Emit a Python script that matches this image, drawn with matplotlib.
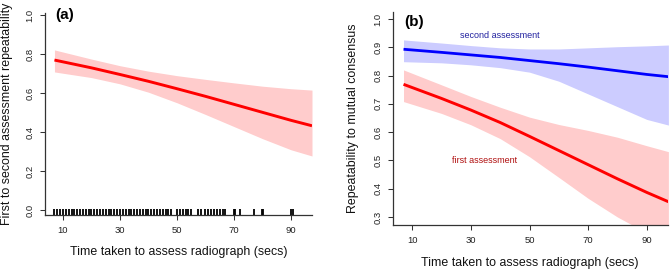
import matplotlib
matplotlib.use("Agg")
import matplotlib.pyplot as plt
import matplotlib.transforms as mtransforms

plt.rcParams['font.family'] = ['Liberation Sans', 'DejaVu Sans']

# ---------------- data ----------------
x_grid = [7, 20, 30, 40, 50, 60, 70, 80, 90, 97.4]

# panel (a): first to second assessment repeatability
a_fit = [0.769, 0.729, 0.695, 0.660, 0.622, 0.583, 0.542, 0.501, 0.460, 0.432]
a_upper = [0.821, 0.774, 0.740, 0.712, 0.689, 0.670, 0.652, 0.635, 0.622, 0.615]
a_lower = [0.708, 0.679, 0.647, 0.604, 0.550, 0.490, 0.428, 0.366, 0.309, 0.277]

rug_times = [7, 8, 9, 10, 11, 12, 13, 14, 15, 16, 17, 18, 19, 20, 21, 22, 23, 24,
             25, 26, 27, 28, 29, 30, 31, 32, 33, 34, 35, 36, 37, 38, 39, 40, 41,
             42, 43, 44, 45, 46, 47, 48, 50, 51, 52, 53, 54, 55, 57.5, 58.5, 60,
             61, 62, 63, 64, 65, 66, 67, 70, 70.5, 72, 77, 79.7, 80.3, 90, 90.8]

# panel (b): repeatability to mutual consensus
b_first_fit = [0.769, 0.719, 0.678, 0.634, 0.585, 0.535, 0.485, 0.435, 0.387, 0.354]
b_first_upper = [0.820, 0.767, 0.726, 0.688, 0.653, 0.627, 0.606, 0.582, 0.552, 0.531]
b_first_lower = [0.708, 0.666, 0.626, 0.577, 0.513, 0.440, 0.366, 0.300, 0.244, 0.210]

b_second_fit = [0.893, 0.882, 0.873, 0.864, 0.853, 0.842, 0.830, 0.817, 0.804, 0.796]
b_second_upper = [0.926, 0.915, 0.906, 0.898, 0.894, 0.894, 0.898, 0.902, 0.905, 0.908]
b_second_lower = [0.849, 0.845, 0.838, 0.828, 0.812, 0.780, 0.735, 0.690, 0.645, 0.625]

x_ticks = [10, 30, 50, 70, 90]
a_yticks = [0.0, 0.2, 0.4, 0.6, 0.8, 1.0]
b_yticks = [0.3, 0.4, 0.5, 0.6, 0.7, 0.8, 0.9, 1.0]

xlabel = "Time taken to assess radiograph (secs)"
a_ylabel = "First to second assessment repeatability"
b_ylabel = "Repeatability to mutual consensus"

# ---------------- styling ----------------
RED = "#FF0000"
RED_BAND = "#FFCCCC"
BLUE = "#0000FF"
BLUE_BAND = "#CCCCFF"
AX_COLOR = "#333333"
TICK_FS = 6.8
LABEL_FS = 8.9

fig = plt.figure(figsize=(6.7, 2.71), dpi=100)
ax_a = fig.add_axes([45/670, 1-215/271, 267/670, 202/271])
ax_b = fig.add_axes([393/670, 1-225/271, 275.4/670, 213/271])


def style(ax, yticks, ylim, xlim):
    ax.set_xlim(*xlim)
    ax.set_ylim(*ylim)
    for s in ['top', 'right']:
        ax.spines[s].set_visible(False)
    for s in ['left', 'bottom']:
        ax.spines[s].set_color(AX_COLOR)
        ax.spines[s].set_linewidth(0.9)
    ax.set_xticks(x_ticks)
    ax.set_xticklabels([str(v) for v in x_ticks])
    ax.set_yticks(yticks)
    ax.set_yticklabels([f"{v:.1f}" for v in yticks])
    ax.tick_params(axis='both', direction='out', length=3.6, width=0.75,
                   color=AX_COLOR, labelsize=TICK_FS, labelcolor='#222222')
    ax.tick_params(axis='x', pad=4.5)
    ax.tick_params(axis='y', pad=4.0, labelrotation=90)
    for lab in ax.get_yticklabels():
        lab.set_verticalalignment('center')


# ---- panel (a) ----
style(ax_a, a_yticks, (-0.0256, 1.0103), (3.68, 97.4))
ax_a.fill_between(x_grid, a_lower, a_upper, color=RED_BAND, linewidth=0)
ax_a.plot(x_grid, a_fit, color=RED, linewidth=2.1, solid_capstyle='butt')
trans = mtransforms.blended_transform_factory(ax_a.transData, ax_a.transAxes)
ax_a.vlines(rug_times, 0, 0.03, transform=trans, color='black', linewidth=1.3)
ax_a.text(7.2, 1.0, "(a)", fontsize=11, fontweight='bold', ha='left', va='center')
ax_a.set_xlabel(xlabel, fontsize=LABEL_FS, va='center', color='#111111')
ax_a.xaxis.set_label_coords(0.5, -0.183)
ax_a.set_ylabel(a_ylabel, fontsize=LABEL_FS, va='center', color='#111111')
ax_a.yaxis.set_label_coords(-0.144, 0.5)

# ---- panel (b) ----
style(ax_b, b_yticks, (0.2717, 1.0247), (3.41, 97.4))
ax_b.fill_between(x_grid, b_second_lower, b_second_upper, color=BLUE_BAND, linewidth=0)
ax_b.fill_between(x_grid, b_first_lower, b_first_upper, color=RED_BAND, linewidth=0)
ax_b.plot(x_grid, b_second_fit, color=BLUE, linewidth=2.0, solid_capstyle='butt')
ax_b.plot(x_grid, b_first_fit, color=RED, linewidth=2.1, solid_capstyle='butt')
ax_b.text(39.9, 0.94, "second assessment", fontsize=6.5, color='#2222A0',
          ha='center', va='center')
ax_b.text(34.8, 0.499, "first assessment", fontsize=6.5, color='#B01010',
          ha='center', va='center')
ax_b.text(7.27, 0.99, "(b)", fontsize=11, fontweight='bold', ha='left', va='center')
ax_b.set_xlabel(xlabel, fontsize=LABEL_FS, va='center', color='#111111')
ax_b.xaxis.set_label_coords(0.496, -0.178)
ax_b.set_ylabel(b_ylabel, fontsize=LABEL_FS, va='center', color='#111111')
ax_b.yaxis.set_label_coords(-0.144, 0.5)

fig.savefig("out.png", dpi=100)
